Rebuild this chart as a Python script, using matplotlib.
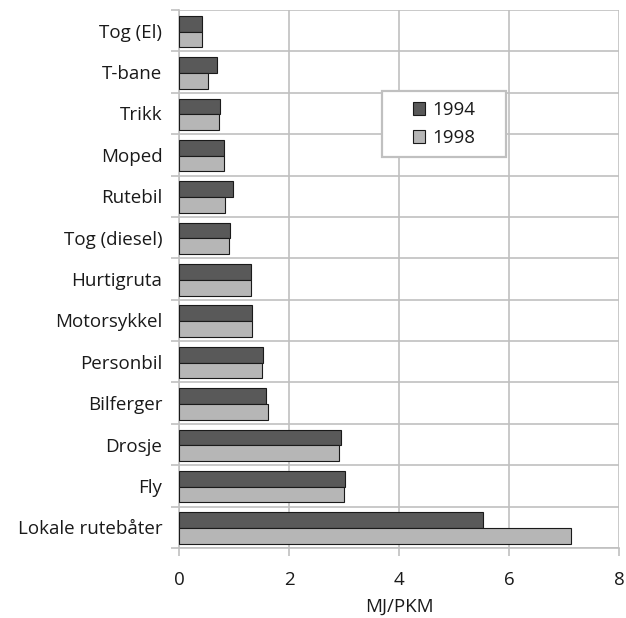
import matplotlib
matplotlib.use("Agg")
import matplotlib.pyplot as plt
from matplotlib.patches import Rectangle
import numpy as np

plt.rcParams['font.family'] = ['Open Sans', 'DejaVu Sans']

categories = ["Tog (El)", "T-bane", "Trikk", "Moped", "Rutebil", "Tog (diesel)",
              "Hurtigruta", "Motorsykkel", "Personbil", "Bilferger", "Drosje",
              "Fly", "Lokale rutebåter"]
v1994 = [0.42, 0.69, 0.75, 0.82, 0.98, 0.92, 1.30, 1.32, 1.53, 1.58, 2.95, 3.01, 5.52]
v1998 = [0.41, 0.53, 0.73, 0.82, 0.84, 0.90, 1.30, 1.33, 1.50, 1.61, 2.91, 2.99, 7.13]
xticks = [0, 2, 4, 6, 8]

grid_c = "#c0c0c0"
fs = 13.5
fig = plt.figure(figsize=(6.26, 6.18), dpi=100)
ax = fig.add_axes([0.286, 0.1133, 0.703, 0.8705])

y = np.arange(len(categories))
h = 0.38
ax.barh(y - h/2 + 0.02, v1994, height=h, color="#595959", edgecolor="#1a1a1a",
        linewidth=0.8, label="1994", zorder=3)
ax.barh(y + h/2 + 0.02, v1998, height=h, color="#b6b6b6", edgecolor="#1a1a1a",
        linewidth=0.8, label="1998", zorder=3)

ax.set_xlim(0, 8)
ax.set_ylim(len(categories) - 0.5, -0.5)
ax.set_xticks(xticks)
ax.set_xticklabels([str(t) for t in xticks])
ax.set_yticks(y)
ax.set_yticklabels(categories)
ax.set_yticks(np.arange(len(categories) + 1) - 0.5, minor=True)

ax.tick_params(axis="y", which="major", length=0, pad=12, labelsize=fs, labelcolor="#1a1a1a")
ax.tick_params(axis="y", which="minor", length=6, width=1.2, color=grid_c)
ax.tick_params(axis="x", which="major", length=6, width=1.2, color=grid_c,
               pad=10.5, labelsize=fs, labelcolor="#1a1a1a")

ax.grid(axis="x", which="major", color=grid_c, linewidth=1.2, zorder=0)
ax.grid(axis="y", which="minor", color=grid_c, linewidth=1.2, zorder=0)
for s in ax.spines.values():
    s.set_color(grid_c)
    s.set_linewidth(1.2)
ax.spines["top"].set_visible(False)
ax.spines["right"].set_visible(False)

ax.set_xlabel("MJ/PKM", fontsize=fs, color="#1a1a1a", labelpad=6.5)

# legend frame drawn as a box, legend entries centred in it
ax.add_patch(Rectangle((0.461, 0.727), 0.282, 0.122, transform=ax.transAxes,
                       facecolor="white", edgecolor=grid_c, linewidth=1.6, zorder=4))
leg = ax.legend(loc="center", bbox_to_anchor=(0.602, 0.788), frameon=False,
                fontsize=fs, handlelength=0.67, handleheight=0.67, handletextpad=0.35,
                labelspacing=0.55, borderpad=0, borderaxespad=0)
leg.set_zorder(5)
for t in leg.get_texts():
    t.set_color("#1a1a1a")

fig.savefig("out.png", dpi=100)
